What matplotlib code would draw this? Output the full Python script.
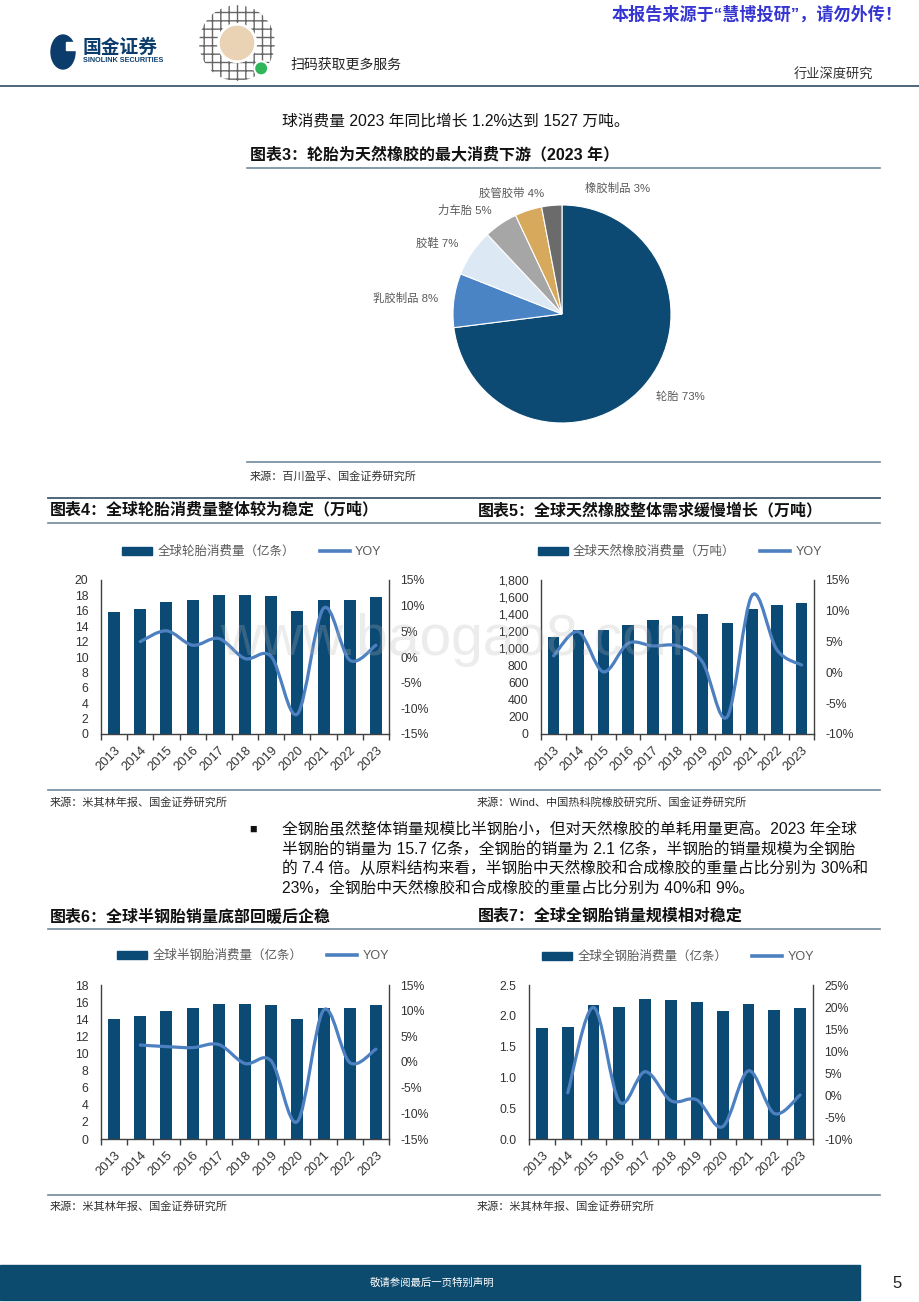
import numpy as np
import matplotlib
matplotlib.use("Agg")
import matplotlib.pyplot as plt
from matplotlib.lines import Line2D
from matplotlib.patches import Patch, PathPatch, Rectangle, Circle
from matplotlib.path import Path

plt.rcParams['font.family'] = ['Liberation Sans', 'Noto Sans CJK SC', 'DejaVu Sans']

# ---- 数据 ----
years = ['2013', '2014', '2015', '2016', '2017', '2018', '2019', '2020', '2021', '2022', '2023']

pie_names = ['轮胎', '乳胶制品', '胶鞋', '力车胎', '胶管胶带', '橡胶制品']
pie_vals = [73, 8, 7, 5, 4, 3]
pie_colors = ['#0d4a73', '#4a84c4', '#dde8f5', '#a6a6a6', '#d6a95c', '#6b6b6b']

tire_total = [15.8, 16.2, 17.1, 17.4, 18.1, 18.0, 17.9, 16.0, 17.4, 17.4, 17.8]
tire_total_yoy = [np.nan, 3.0, 5.1, 2.3, 3.6, -0.3, 0.1, -11.1, 9.5, -0.6, 2.3]

rubber = [1138, 1216, 1215, 1270, 1329, 1383, 1399, 1297, 1457, 1508, 1527]
rubber_yoy = [2.7, 6.6, 0.1, 4.7, 4.3, 4.3, 1.7, -7.2, 12.5, 3.7, 1.2]

semi_steel = [14.0, 14.4, 15.0, 15.35, 15.8, 15.8, 15.7, 14.0, 15.35, 15.35, 15.7]
semi_steel_yoy = [np.nan, 3.3, 3.0, 2.8, 3.4, -0.3, 0.2, -11.6, 10.1, -0.1, 2.5]

all_steel = [1.81, 1.82, 2.18, 2.15, 2.28, 2.26, 2.23, 2.07, 2.19, 2.10, 2.12]
all_steel_yoy = [np.nan, 0.5, 19.9, -1.5, 5.3, -1.3, -1.1, -7.2, 5.5, -4.2, 0.0]

# ---- 样式 ----
W, H = 920, 1302
BAR = '#0c4a76'
LINE = '#4d80c0'
SPINE = '#404040'
RULE = '#6f8a9b'
GREY = '#595959'

fig = plt.figure(figsize=(W / 100, H / 100), dpi=100)


def box(l, t, r, b):
    return [l / W, 1 - b / H, (r - l) / W, (b - t) / H]


def txt(x, y, s, **kw):
    kw.setdefault('va', 'center')
    fig.text(x / W, 1 - y / H, s, **kw)


def hline(x0, x1, y, color=RULE, lw=1.2):
    fig.add_artist(Line2D([x0 / W, x1 / W], [1 - y / H, 1 - y / H],
                          color=color, lw=lw, transform=fig.transFigure))


def smooth_path(xs, ys):
    # 平滑曲线（贝塞尔），穿过每个数据点
    pts = np.column_stack([xs, ys])
    n = len(pts)
    verts = [pts[0]]
    codes = [Path.MOVETO]
    for i in range(n - 1):
        p0 = pts[i - 1] if i > 0 else pts[i]
        p1, p2 = pts[i], pts[i + 1]
        p3 = pts[i + 2] if i + 2 < n else pts[i + 1]
        verts += [p1 + (p2 - p0) / 6, p2 - (p3 - p1) / 6, p2]
        codes += [Path.CURVE4] * 3
    return Path(verts, codes)


def combo_chart(rect, vals, yoy, ylim, yticks, yfmt, y2lim, y2ticks, xlim, label, leg_xy):
    ax = fig.add_axes(box(*rect))
    x = np.arange(len(years))
    ax.bar(x, vals, width=0.46, color=BAR, zorder=2)
    ax.set_xlim(*xlim)
    ax.set_ylim(*ylim)
    ax.set_yticks(yticks)
    ax.set_yticklabels([yfmt(v) for v in yticks])
    ax.set_xticks(x)
    ax.set_xticklabels(years, rotation=45, ha='right', rotation_mode='anchor')
    ax.set_xticks(np.arange(-0.5, len(years) + 0.5), minor=True)
    ax.tick_params(axis='x', which='major', length=0, pad=7, labelsize=9.3, labelcolor='#333333')
    ax.tick_params(axis='x', which='minor', length=4, direction='out', color=SPINE, width=1)
    ax.tick_params(axis='y', length=0, pad=9, labelsize=8.8, labelcolor='#333333')
    for s in ['top', 'right']:
        ax.spines[s].set_visible(False)
    for s in ['left', 'bottom']:
        ax.spines[s].set_color(SPINE)
        ax.spines[s].set_linewidth(1.0)

    ax2 = ax.twinx()
    ax2.set_ylim(*y2lim)
    ax2.set_yticks(y2ticks)
    ax2.set_yticklabels([f'{v}%' for v in y2ticks])
    ax2.tick_params(axis='y', length=0, pad=8, labelsize=8.8, labelcolor='#333333')
    for s in ['top', 'left', 'bottom']:
        ax2.spines[s].set_visible(False)
    ax2.spines['right'].set_color(SPINE)
    ax2.spines['right'].set_linewidth(1.0)
    yy = np.array(yoy, dtype=float)
    ok = ~np.isnan(yy)
    ax2.add_patch(PathPatch(smooth_path(x[ok], yy[ok]), facecolor='none',
                            edgecolor=LINE, lw=2.3, capstyle='round', zorder=3))

    handles = [Patch(color=BAR), Line2D([0], [0], color=LINE, lw=2.6)]
    ax.legend(handles, [label, 'YOY'], ncol=2, loc='center',
              bbox_to_anchor=(leg_xy[0] / W, 1 - leg_xy[1] / H), bbox_transform=fig.transFigure,
              frameon=False, fontsize=9, handlelength=2.4, handleheight=0.6,
              handletextpad=0.4, columnspacing=2.0, labelcolor=GREY, borderpad=0)
    return ax


# ---- 页眉 ----
txt(612, 14, '本报告来源于“慧博投研”，请勿外传！', fontsize=12.3, color='#3535d2', fontweight='bold')
fig.add_artist(Circle((63 / W, 1 - 52 / H), 12 / W, transform=fig.transFigure,
                      color='#0b3c6b'))
fig.add_artist(Rectangle((66 / W, 1 - 50 / H), 10 / W, 8 / H, transform=fig.transFigure,
                         color='white'))
txt(83, 48, '国金证券', fontsize=13.5, color='#0b3c6b', fontweight='bold')
txt(83, 61, 'SINOLINK SECURITIES', fontsize=5.2, color='#0b3c6b', fontweight='bold')
qr = fig.add_axes(box(198, 4, 276, 82))
qr.set_xlim(-1, 1)
qr.set_ylim(-1, 1)
qr.axis('off')
qr.add_patch(Circle((0, 0), 0.97, facecolor='white', edgecolor='#666666', hatch='++', lw=0))
qr.add_patch(Circle((0, 0), 0.48, facecolor='#e9d3b4', edgecolor='white', lw=2))
qr.add_patch(Circle((0.62, -0.65), 0.18, facecolor='#2fb55a', edgecolor='white', lw=1.5))
txt(290, 65, '扫码获取更多服务', fontsize=10, color='#222222')
txt(873, 75, '行业深度研究', fontsize=9.5, color='#333333', ha='right')
hline(0, 920, 86, color='#3f5a6e', lw=1.3)

txt(282, 121, '球消费量 2023 年同比增长 1.2%达到 1527 万吨。', fontsize=11.3, color='#111111')

# ---- 图表3 饼图 ----
txt(250, 155, '图表3：轮胎为天然橡胶的最大消费下游（2023 年）', fontsize=11.5, fontweight='bold',
    color='#111111')
hline(247, 880, 168)
pax = fig.add_axes(box(453, 205, 671, 423))
wedges, texts = pax.pie(pie_vals, labels=[f'{n} {v}%' for n, v in zip(pie_names, pie_vals)],
                        colors=pie_colors, startangle=90, counterclock=False,
                        labeldistance=1.15,
                        wedgeprops=dict(edgecolor='white', linewidth=0.8),
                        textprops=dict(fontsize=8.2, color=GREY))
pax.set_xlim(-1, 1)
pax.set_ylim(-1, 1)
texts[4].set_position((-0.16, 1.11))
texts[5].set_position((0.21, 1.15))
texts[5].set_ha('left')
hline(247, 880, 462)
txt(250, 476, '来源：百川盈孚、国金证券研究所', fontsize=8, color='#333333')

# ---- 图表4 / 图表5 ----
hline(48, 880, 498, color='#3f5a6e', lw=1.3)
txt(50, 510, '图表4：全球轮胎消费量整体较为稳定（万吨）', fontsize=11.5, fontweight='bold', color='#111111')
txt(478, 510, '图表5：全球天然橡胶整体需求缓慢增长（万吨）', fontsize=11.5, fontweight='bold', color='#111111')
hline(48, 880, 523)

combo_chart((101, 580, 389, 734), tire_total, tire_total_yoy, (0, 20), range(0, 21, 2),
            lambda v: f'{v}', (-15, 15), range(-15, 16, 5), (-0.48, 10.38),
            '全球轮胎消费量（亿条）', (252, 552))
combo_chart((541, 580, 814, 734), rubber, rubber_yoy, (0, 1800), range(0, 1801, 200),
            lambda v: f'{v:,}', (-10, 15), range(-10, 16, 5), (-0.51, 10.47),
            '全球天然橡胶消费量（万吨）', (680, 552))

hline(48, 880, 790)
txt(50, 802, '来源：米其林年报、国金证券研究所', fontsize=8, color='#333333')
txt(477, 802, '来源：Wind、中国热科院橡胶研究所、国金证券研究所', fontsize=8, color='#333333')

# ---- 正文 ----
para = ['全钢胎虽然整体销量规模比半钢胎小，但对天然橡胶的单耗用量更高。2023 年全球',
        '半钢胎的销量为 15.7 亿条，全钢胎的销量为 2.1 亿条，半钢胎的销量规模为全钢胎',
        '的 7.4 倍。从原料结构来看，半钢胎中天然橡胶和合成橡胶的重量占比分别为 30%和',
        '23%，全钢胎中天然橡胶和合成橡胶的重量占比分别为 40%和 9%。']
txt(253, 830, '■', fontsize=9, color='#111111', ha='center')
for i, line in enumerate(para):
    txt(282, 830 + i * 19.3, line, fontsize=11.3, color='#111111')

# ---- 图表6 / 图表7 ----
txt(50, 916, '图表6：全球半钢胎销量底部回暖后企稳', fontsize=11.5, fontweight='bold', color='#111111')
txt(478, 916, '图表7：全球全钢胎销量规模相对稳定', fontsize=11.5, fontweight='bold', color='#111111')
hline(48, 880, 929)

combo_chart((101, 985, 389, 1139), semi_steel, semi_steel_yoy, (0, 18), range(0, 19, 2),
            lambda v: f'{v}', (-15, 15), range(-15, 16, 5), (-0.48, 10.46),
            '全球半钢胎消费量（亿条）', (253, 956))
combo_chart((529, 985, 813, 1139), all_steel, all_steel_yoy, (0, 2.5),
            [0, 0.5, 1.0, 1.5, 2.0, 2.5],
            lambda v: f'{v:.1f}', (-10, 25), range(-10, 26, 5), (-0.46, 10.35),
            '全球全钢胎消费量（亿条）', (678, 957))

hline(48, 880, 1195)
txt(50, 1206, '来源：米其林年报、国金证券研究所', fontsize=8, color='#333333')
txt(477, 1206, '来源：米其林年报、国金证券研究所', fontsize=8, color='#333333')

# ---- 水印 ----
fig.text(220 / W, 1 - 655 / H, 'www.baogao8.com', fontsize=41, color='#b4b4b4', alpha=0.25,
         va='baseline', zorder=20)

# ---- 页脚 ----
fig.add_artist(Rectangle((0, 1 - 1300 / H), 860 / W, 35 / H, transform=fig.transFigure,
                         color='#0c4a6e'))
txt(432, 1283, '敬请参阅最后一页特别声明', fontsize=7.5, color='white', ha='center')
txt(897, 1283, '5', fontsize=12, color='#222222', ha='center')

fig.savefig('out.png', dpi=100)
